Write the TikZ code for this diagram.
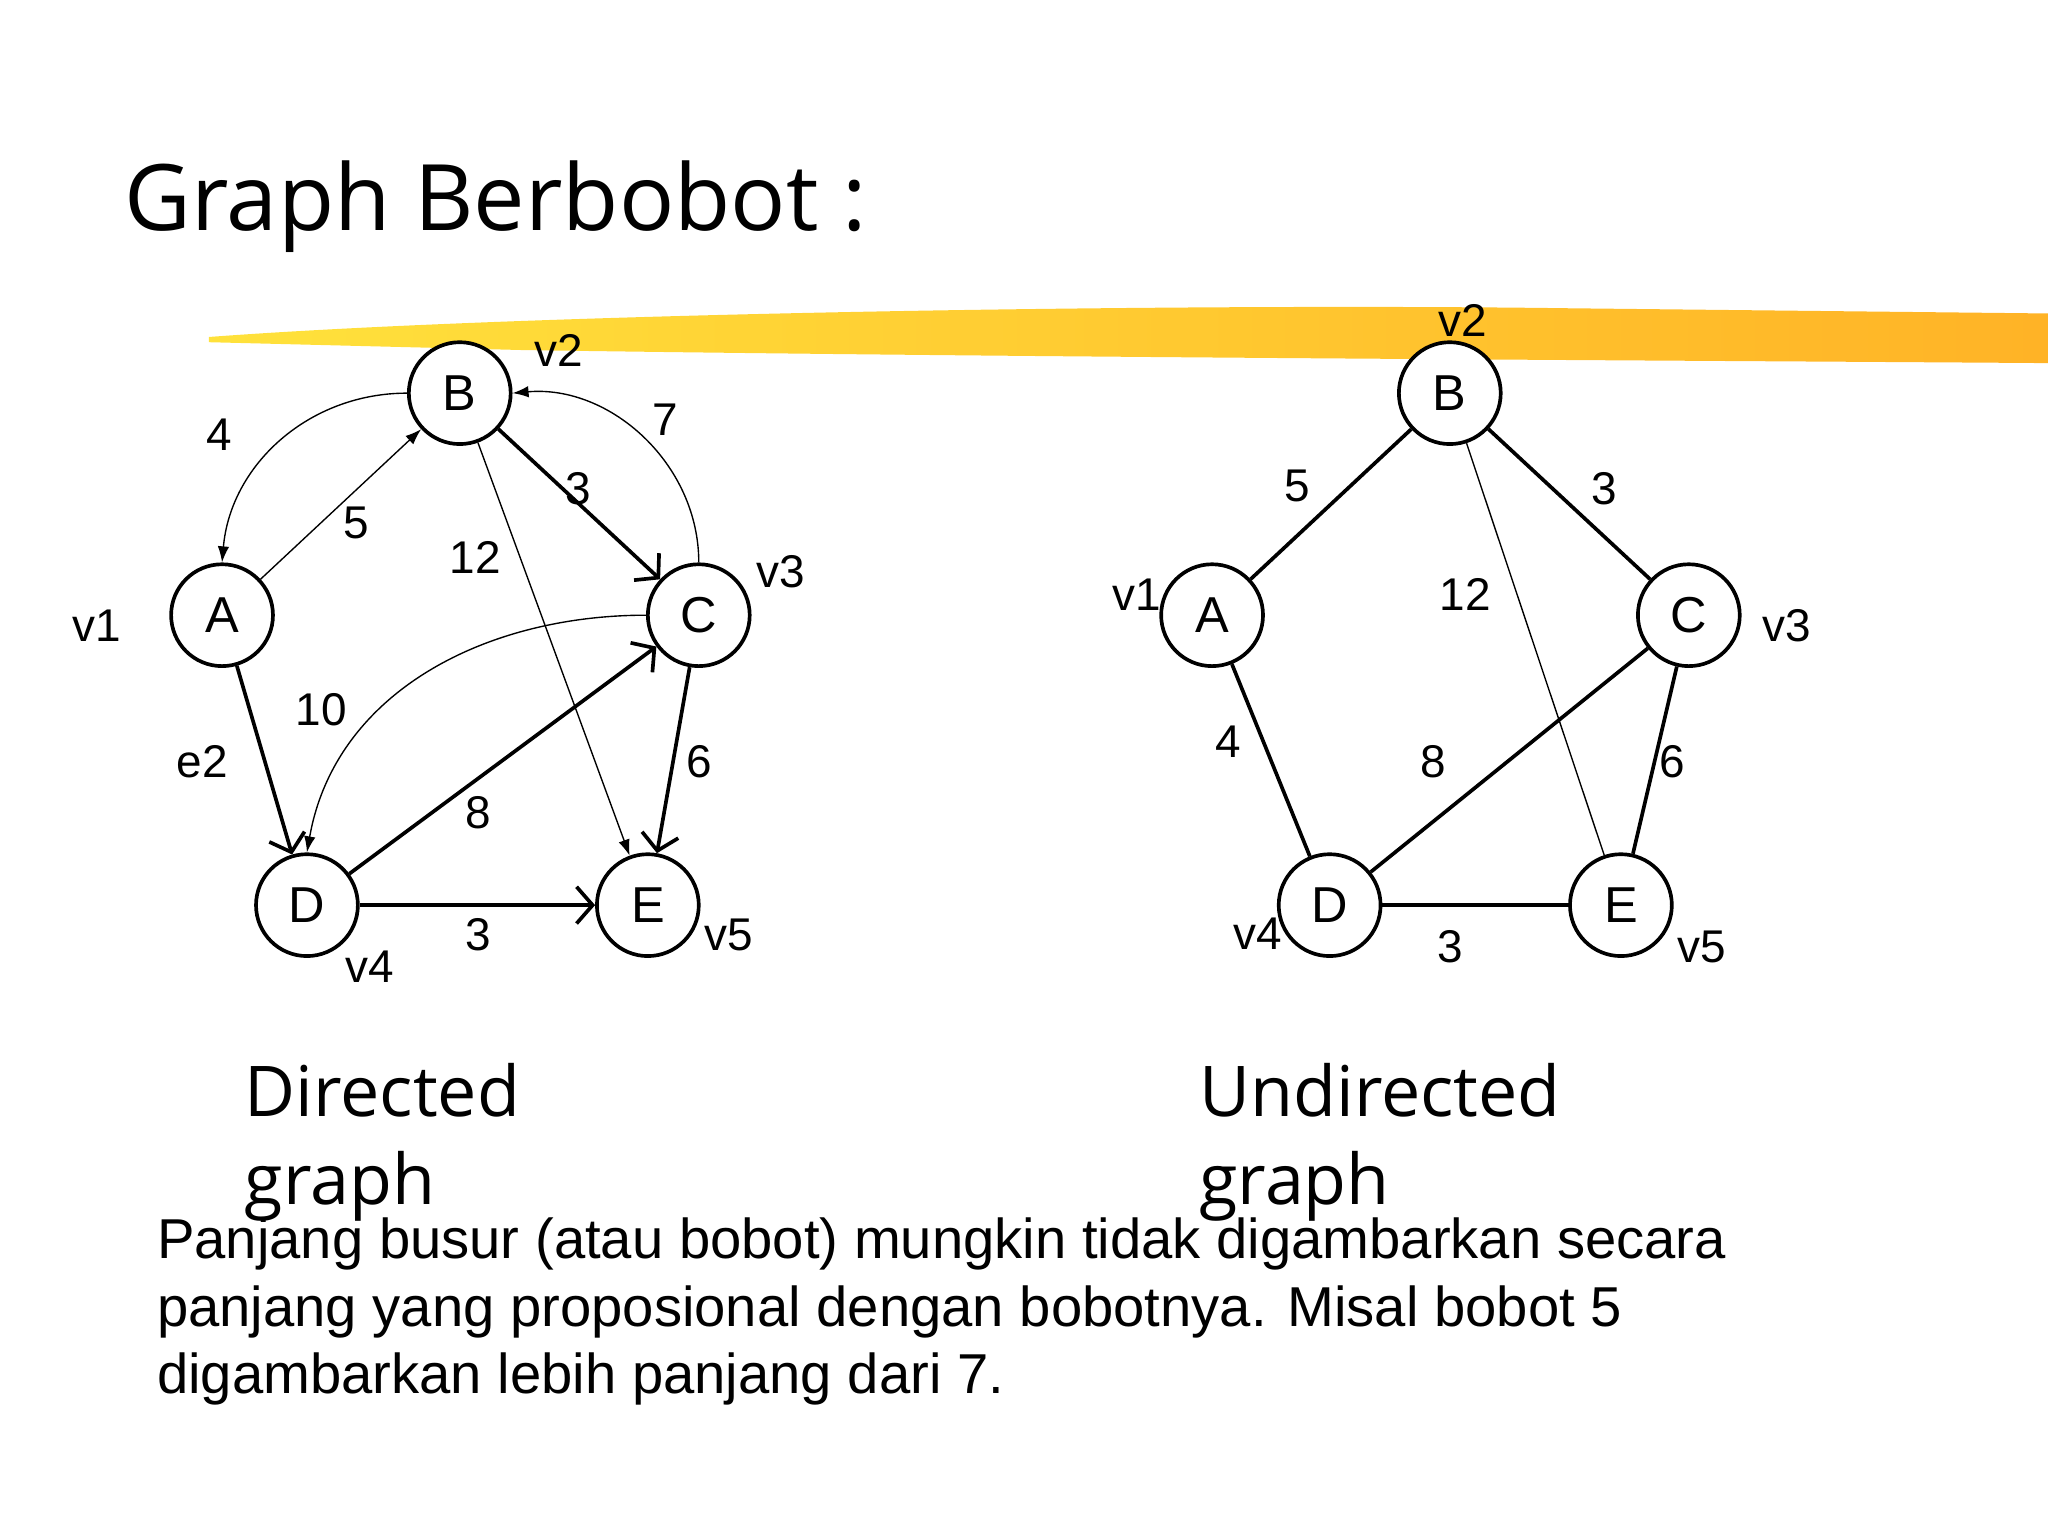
\documentclass[tikz,border=0pt]{standalone}
\usepackage{fontspec}
\setmainfont{Liberation Sans}
\newfontfamily\osans{Open Sans}
\usetikzlibrary{arrows.meta}
\begin{document}
\begin{tikzpicture}[x=0.02cm,y=-0.02cm,
  vtx/.style={circle,draw,line width=1.6pt,fill=white,minimum size=1.56cm,inner sep=0pt,font=\fontsize{22}{24}\selectfont},
  lbl/.style={font=\fontsize{20}{22}\selectfont,inner sep=0pt},
  thin/.style={line width=0.6pt,-{Latex[length=7pt,width=5pt]}},
  thick/.style={line width=1.6pt,-{Straight Barb[length=7pt,width=16pt,line width=1.6pt]}},
  und/.style={line width=1.6pt},
  bigt/.style={font=\osans\fontsize{30.5}{36}\selectfont,anchor=north west,align=left,inner sep=0pt}]
\useasboundingbox (0,0) rectangle (1568,1176);
% brush stroke
\shade[left color=yellow!70!orange!90!white, right color=orange!70!yellow, opacity=0.85]
 (160,258) .. controls (400,240) and (900,232) .. (1200,236) -- (1568,240) -- (1568,278)
 .. controls (1300,276) and (800,274) .. (400,268) -- (160,262) -- cycle;
\node[anchor=west,font=\osans\fontsize{40}{44}\selectfont,inner sep=0pt] (title) at (95,158) {Graph Berbobot :};
% left graph
\node[vtx] (B) at (352,301) {B};
\node[vtx] (A) at (170,471) {A};
\node[vtx] (C) at (535,471) {C};
\node[vtx] (D) at (235,693) {D};
\node[vtx] (E) at (496,693) {E};
\draw[thin] (A) -- (B);
\draw[thin] (B.west) to[out=180,in=85] (A.north);
\draw[thin] (C.north) to[out=90,in=5] (B.east);
\draw[thick] (B) -- (C);
\draw[thin] (B) -- (E);
\draw[thin] (C.west) to[out=180,in=80] (D.north);
\draw[thick] (A) -- (D);
\draw[thick] (D) -- (C);
\draw[thick] (C) -- (E);
\draw[thick] (D) -- (E);
\node[lbl] (l1) at (273,400) {5};
\node[lbl] (l2) at (168,333) {4};
\node[lbl] (l3) at (509,321) {7};
\node[lbl] (l4) at (443,374) {3};
\node[lbl] (l5) at (364,427) {12};
\node[lbl] (l6) at (246,543) {10};
\node[lbl] (l7) at (155,583) {e2};
\node[lbl] (l8) at (366,622) {8};
\node[lbl] (l9) at (535,583) {6};
\node[lbl] (l10) at (366,716) {3};
\node[lbl] (v2a) at (428,268) {v2};
\node[lbl] (v1a) at (74,479) {v1};
\node[lbl] (v3a) at (598,438) {v3};
\node[lbl] (v4a) at (283,740) {v4};
\node[lbl] (v5a) at (558,716) {v5};
% right graph
\node[vtx] (B2) at (1110,301) {B};
\node[vtx] (A2) at (928,471) {A};
\node[vtx] (C2) at (1293,471) {C};
\node[vtx] (D2) at (1018,693) {D};
\node[vtx] (E2) at (1241,693) {E};
\draw[und] (B2) -- (A2);
\draw[und] (B2) -- (C2);
\draw[line width=0.6pt] (B2) -- (E2);
\draw[und] (A2) -- (D2);
\draw[und] (D2) -- (C2);
\draw[und] (C2) -- (E2);
\draw[und] (D2) -- (E2);
\node[lbl] (r1) at (993,372) {5};
\node[lbl] (r2) at (1228,374) {3};
\node[lbl] (r3) at (1122,455) {12};
\node[lbl] (r4) at (940,568) {4};
\node[lbl] (r5) at (1097,583) {8};
\node[lbl] (r6) at (1280,583) {6};
\node[lbl] (r7) at (1110,725) {3};
\node[lbl] (v2b) at (1120,245) {v2};
\node[lbl] (v1b) at (870,455) {v1};
\node[lbl] (v3b) at (1368,479) {v3};
\node[lbl] (v4b) at (963,715) {v4};
\node[lbl] (v5b) at (1303,725) {v5};
\node[bigt] (dg) at (187,814) {Directed\\[2pt]graph};
\node[bigt] (ug) at (918,814) {Undirected\\[2pt]graph};
\node[anchor=north west,align=left,inner sep=0pt,font=\fontsize{24.5}{29.5}\selectfont] (para) at (120,932)
 {Panjang busur (atau bobot) mungkin tidak digambarkan secara\\panjang yang proposional dengan bobotnya. Misal bobot 5\\digambarkan lebih panjang dari 7.};
\end{tikzpicture}
\end{document}
